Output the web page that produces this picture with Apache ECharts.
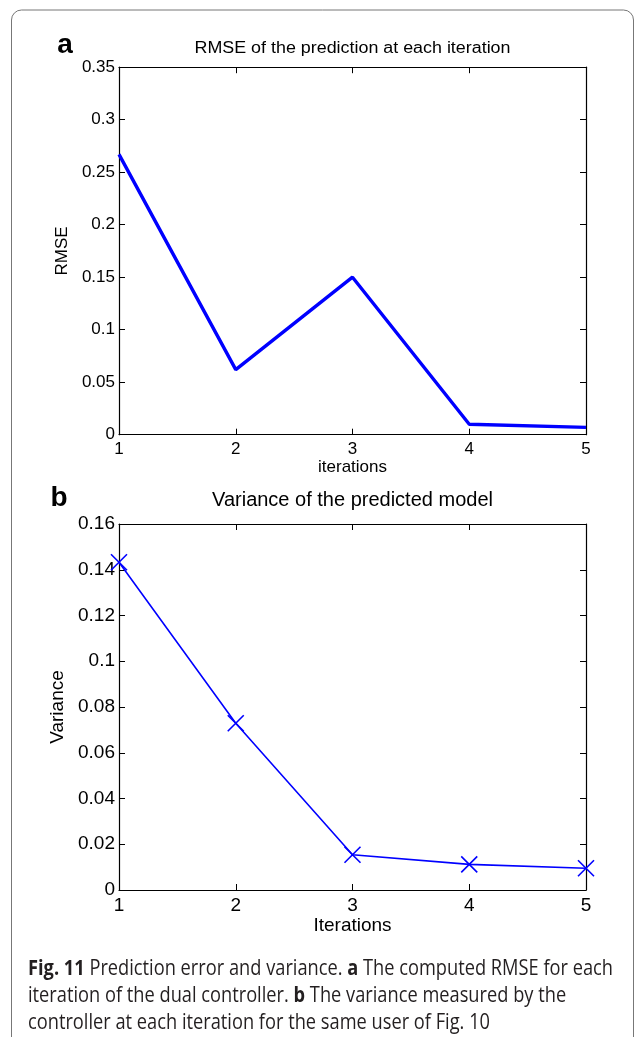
<!DOCTYPE html>
<html>
<head>
<meta charset="utf-8">
<script src="https://cdn.jsdelivr.net/npm/echarts@6/dist/echarts.min.js"></script>
<style>
html,body{margin:0;padding:0;background:#fff;}
#chart{width:635px;height:1037px;}
</style>
</head>
<body>
<div id="chart"></div>
<script>
// ---- data ----
const iterations = [1, 2, 3, 4, 5];
const rmse = [0.267, 0.062, 0.150, 0.010, 0.007];
const variance = [0.1433, 0.0729, 0.0154, 0.0112, 0.0095];
const titleA = 'RMSE of the prediction at each iteration';
const titleB = 'Variance of the predicted model';
const captionLines = [
  [['Fig. 11', true], [' Prediction error and variance. ', false], ['a', true], [' The computed RMSE for each', false]],
  [['iteration of the dual controller. ', false], ['b', true], [' The variance measured by the', false]],
  [['controller at each iteration for the same user of Fig. 10', false]]
];

const FF = '"Liberation Sans", Arial, Helvetica, sans-serif';
const CF = '"Open Sans", "Noto Sans", sans-serif';
const CSIZE = 22;
const BLUE = '#0000ff';

// measure text to fit widths (layout only)
const mctx = document.createElement('canvas').getContext('2d');
function tw(text, font) { mctx.font = font; return mctx.measureText(text).width; }
function lineWidth(parts) {
  return parts.reduce((s, p) => s + tw(p[0], (p[1] ? 'bold ' : '') + CSIZE + 'px ' + CF), 0);
}
const capScale = 585 / lineWidth(captionLines[0]);
const titleAScale = 316 / tw(titleA, '16px ' + FF);

const chart = echarts.init(document.getElementById('chart'), null, {renderer: 'canvas'});

function xAx(grid, pos, fs, name, gap) {
  const main = pos === 'bottom';
  return {
    type: 'value', gridIndex: grid, position: pos, min: 1, max: 5, interval: 1,
    name: main ? name : '', nameLocation: 'middle', nameGap: gap,
    nameTextStyle: {fontFamily: FF, fontSize: fs, color: '#000'},
    axisLine: {show: true, onZero: false, lineStyle: {color: '#000', width: 1.2}},
    axisTick: {show: true, inside: true, length: 6, lineStyle: {color: '#000', width: 1}},
    axisLabel: {show: main, color: '#000', fontFamily: FF, fontSize: fs, margin: 6},
    splitLine: {show: false}
  };
}
function yAx(grid, pos, fs, max, interval, name, nfs, gap) {
  const main = pos === 'left';
  return {
    type: 'value', gridIndex: grid, position: pos, min: 0, max: max, interval: interval,
    name: main ? name : '', nameLocation: 'middle', nameGap: gap, nameRotate: 90,
    nameTextStyle: {fontFamily: FF, fontSize: nfs, color: '#000'},
    axisLine: {show: true, onZero: false, lineStyle: {color: '#000', width: 1.2}},
    axisTick: {show: true, inside: true, length: 6, lineStyle: {color: '#000', width: 1}},
    axisLabel: {show: main, color: '#000', fontFamily: FF, fontSize: fs, margin: 4},
    splitLine: {show: false}
  };
}

function captionText(parts) {
  return parts.map(p => p[1] ? '{b|' + p[0] + '}' : p[0]).join('');
}
const capY = [969, 996, 1023];
const captionGraphics = captionLines.map((parts, i) => ({
  type: 'text', x: 28, y: capY[i], scaleX: capScale,
  style: {
    text: captionText(parts), font: CSIZE + 'px ' + CF, fill: '#231f20',
    align: 'left', verticalAlign: 'middle',
    rich: {b: {fontWeight: 'bold', fontSize: CSIZE, fontFamily: CF, fill: '#231f20'}}
  }
}));

const option = {
  backgroundColor: '#fff',
  animation: false,
  grid: [
    {left: 119, top: 67.2, width: 467, height: 367.5, containLabel: false},
    {left: 119, top: 524, width: 467, height: 366, containLabel: false}
  ],
  xAxis: [
    xAx(0, 'bottom', 17, 'iterations', 21),
    xAx(0, 'top', 17, '', 0),
    xAx(1, 'bottom', 19, 'Iterations', 24),
    xAx(1, 'top', 19, '', 0)
  ],
  yAxis: [
    yAx(0, 'left', 17, 0.35, 0.05, 'RMSE', 17, 44),
    yAx(0, 'right', 17, 0.35, 0.05, '', 17, 0),
    yAx(1, 'left', 19, 0.16, 0.02, 'Variance', 19, 48),
    yAx(1, 'right', 19, 0.16, 0.02, '', 19, 0)
  ],
  series: [
    {
      type: 'line', xAxisIndex: 0, yAxisIndex: 0,
      data: iterations.map((x, i) => [x, rmse[i]]),
      showSymbol: false, symbol: 'none',
      lineStyle: {color: BLUE, width: 3.4}, clip: false
    },
    {
      type: 'line', xAxisIndex: 2, yAxisIndex: 2,
      data: iterations.map((x, i) => [x, variance[i]]),
      symbol: 'path://M0,0L10,10M0,10L10,0', symbolSize: 16,
      itemStyle: {color: BLUE, borderColor: BLUE, borderWidth: 1.6},
      lineStyle: {color: BLUE, width: 1.6}, clip: false
    }
  ],
  graphic: [
    {type: 'rect', shape: {x: 11.5, y: 10, width: 622, height: 1100, r: 10},
     style: {fill: 'none', stroke: '#777', lineWidth: 1}, silent: true},
    {type: 'text', x: 65, y: 45.5, style: {text: 'a', font: 'bold 28px ' + FF, fill: '#000', align: 'center', verticalAlign: 'middle'}},
    {type: 'text', x: 352.5, y: 48.5, originX: 0, scaleX: titleAScale,
     style: {text: titleA, font: '16px ' + FF, fill: '#000', align: 'center', verticalAlign: 'middle'}},
    {type: 'text', x: 59, y: 498, style: {text: 'b', font: 'bold 28px ' + FF, fill: '#000', align: 'center', verticalAlign: 'middle'}},
    {type: 'text', x: 352.5, y: 500, style: {text: titleB, font: '20px ' + FF, fill: '#000', align: 'center', verticalAlign: 'middle'}}
  ].concat(captionGraphics)
};
chart.setOption(option);
</script>
</body>
</html>
